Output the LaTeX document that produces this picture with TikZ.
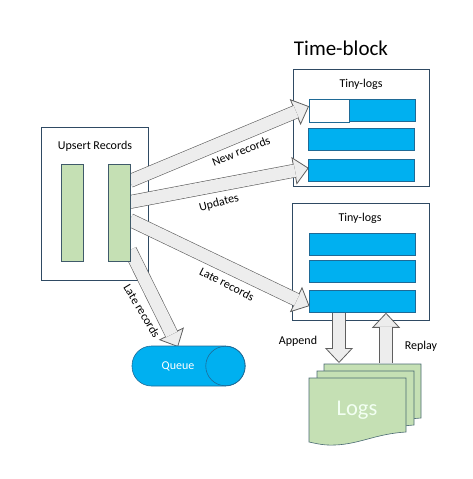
\documentclass[tikz,border=0pt]{standalone}
\usepackage{fontspec}
\setmainfont{Carlito}
\usetikzlibrary{arrows.meta, decorations.markings, backgrounds}
\definecolor{boxEdge}{HTML}{2F4A63}
\definecolor{rowBlue}{HTML}{00B0F0}
\definecolor{rowEdge}{HTML}{1F6A96}
\definecolor{barGreen}{HTML}{C5E0B4}
\definecolor{barEdge}{HTML}{3F5A6A}
\definecolor{arrowFill}{HTML}{EDEDED}
\definecolor{arrowEdge}{HTML}{5F5F5F}
\definecolor{pageEdge}{HTML}{4A6A72}
\pgfdeclarelayer{arrowlayer}
\pgfsetlayers{background,arrowlayer,main}
\tikzstyle{blockArrow} = [semithick, draw=arrowEdge, decoration={markings,mark=at position
   1 with {\arrow{Triangle[length=15pt,width=28pt,fill=arrowFill,color=arrowEdge,line width=.8pt]}}},
   double=arrowFill, double distance=12.5pt, shorten >= 14pt,
   preaction = {decorate}]
\tikzstyle{outerBox} = [draw=boxEdge, semithick, rectangle, inner sep=0pt, outer sep=0pt]
\tikzstyle{rowBox} = [draw=rowEdge, fill=rowBlue, semithick, rectangle, inner sep=0pt, outer sep=0pt,
   minimum width=106pt, minimum height=22.5pt]
\tikzstyle{barBox} = [draw=barEdge, fill=barGreen, semithick, rectangle, inner sep=0pt, outer sep=0pt,
   minimum width=22pt, minimum height=97pt]

\begin{document}
\begin{tikzpicture}[x=1pt, y=-1pt, font=\fontsize{12}{14}\selectfont]
  \useasboundingbox (0,0) rectangle (473,479);
  \begin{scope}[on background layer]
    \node[outerBox,minimum width=107pt,minimum height=152.5pt] (upsert) at (95,203.75) {};
    \node[outerBox,minimum width=135.5pt,minimum height=116.5pt] (blockTop) at (361.25,127.75) {};
    \node[outerBox,minimum width=136.5pt,minimum height=117pt] (blockBottom) at (361,262) {};
  \end{scope}
  \node[barBox] (barA) at (72.25,212.5) {};
  \node[barBox] (barB) at (119,212.5) {};
  \node[rowBox] (rowA) at (362,110.25) {};
  \fill[white] (rowA.north west) rectangle (349,122);
  \draw[rowEdge,semithick] (rowA.north west) rectangle (349,122);
  \node[rowBox] (rowB) at (361.75,139.25) {};
  \node[rowBox] (rowC) at (361.75,170.5) {};
  \node[rowBox] (rowD) at (362.5,244.25) {};
  \node[rowBox] (rowE) at (362.5,271.5) {};
  \node[rowBox] (rowF) at (362.5,301.5) {};
  \node[draw=rowEdge, fill=rowBlue, semithick, rounded corners=19.5pt, inner sep=0pt, outer sep=0pt,
    minimum width=113pt, minimum height=40pt] (queue) at (188.5,366) {};
  \node[draw=rowEdge, semithick, circle, inner sep=0pt, outer sep=0pt, minimum size=39.5pt] (queueEnd) at (225.5,366) {};
  \node[text=white] (queueText) at (178,366) {Queue};
  % Stacked pages, back to front
  \foreach \dx/\dy/\name in {15/-14/pageBack, 8/-7/pageMid, 0/0/pageFront} {
    \draw[draw=pageEdge, fill=barGreen, semithick] (309+\dx,378+\dy) -- (406+\dx,378+\dy) -- (406+\dx,432+\dy)
      .. controls (375+\dx,434+\dy) and (360+\dx,444+\dy) .. (335+\dx,445+\dy)
      .. controls (325+\dx,445.5+\dy) and (318+\dx,444+\dy) .. (309+\dx,442+\dy) -- cycle;
    \coordinate (\name) at (309+\dx,378+\dy);
  }
  \node[text=green!5!white, font=\fontsize{22.5}{26}\selectfont] (logs) at (357,410) {Logs};
  \coordinate (logsAppend) at (339,363);
  \coordinate (logsReplay) at (386,363);
  \begin{pgfonlayer}{arrowlayer}
    \draw[blockArrow] ([yshift=31.5pt]barB.east) to ([yshift=4pt]rowA.west);
    \draw[blockArrow] ([yshift=10.5pt]barB.east) to ([yshift=2.5pt]rowC.west);
    \draw[blockArrow] ([yshift=-7.5pt]barB.east) to ([yshift=-4.5pt]rowF.west);
    \draw[blockArrow] ([yshift=-37.5pt]barB.east) to ([xshift=-10.5pt,yshift=-1pt]queue.north);
    \draw[blockArrow] (rowF.south -| logsAppend) to (logsAppend);
    \draw[blockArrow] (logsReplay) to (rowF.south -| logsReplay);
  \end{pgfonlayer}
  \node (title) at (341,48) {\fontsize{21}{25}\selectfont Time-block};
  \node (upsertLabel) at (95,146) {Upsert Records};
  \node (tinyTop) at (361,84.5) {Tiny-logs};
  \node (tinyBottom) at (360,218) {Tiny-logs};
  \node[rotate=21.6] (newLabel) at (241,151) {New records};
  \node[rotate=15] (updLabel) at (219,203) {Updates};
  \node[rotate=-27] (lateA) at (227,284) {Late records};
  \node[rotate=-59] (lateB) at (142,311) {Late records};
  \node (appendLabel) at (298,341) {Append};
  \node (replayLabel) at (421,346) {Replay};
\end{tikzpicture}
\end{document}
